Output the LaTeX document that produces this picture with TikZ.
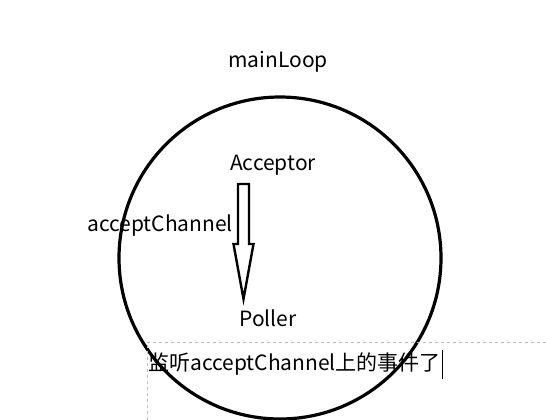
\documentclass[tikz,border=0pt]{standalone}
\usepackage{fontspec}
\newfontfamily\cjk{Noto Sans CJK SC}
\usepackage{tikz}
\usetikzlibrary{positioning,calc}

\begin{document}
\begin{tikzpicture}[x=1pt,y=-1pt,
            label/.style={font=\cjk\fontsize{21}{24}\selectfont,inner sep=0pt},
            flowline/.style={draw,line width=2.4pt,line join=miter},
            editbox/.style={dashed,line width=0.6pt,draw=gray!60!blue!40}]
            \useasboundingbox (0,0) rectangle (546,420);
            \draw[line width=3.2pt] (280,258) circle (161pt);
            \node[label] (loop) at (278,62) {mainLoop};
            \node[label] (acc) at (273,165) {Acceptor};
            \node[label] (chan) at (160,226) {acceptChannel};
            \node[label] (pol) at (268,318) {Poller};
            % hollow arrow from Acceptor down to Poller
            \coordinate (top) at (243.5,184);
            \coordinate (tip) at (243.5,299);
            \draw[flowline] ($(top)+(-5.5,0)$) -- ($(top)+(5.5,0)$) -- ($(top)+(5.5,60)$) -- ($(top)+(10,60)$)
                -- (tip) -- ($(top)+(-10,60)$) -- ($(top)+(-5.5,60)$) -- cycle;
            % text box with caret
            \coordinate (boxtl) at (147,342);
            \draw[editbox] (546,342) -- (boxtl) -- (147,420);
            \node[label,anchor=west,font=\cjk\fontsize{21}{24}\selectfont] (note) at (148,364) {监听acceptChannel上的事件了};
            \draw[line width=0.8pt] ([xshift=1pt]note.east) ++(0,-14) -- ++(0,29);
\end{tikzpicture}
\end{document}
